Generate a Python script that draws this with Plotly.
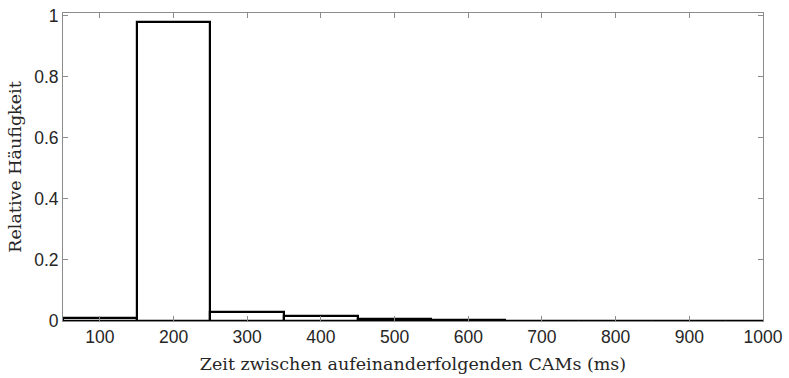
import plotly.graph_objects as go

# Histogram bins (ms): centres and relative frequencies
bin_centers = [100, 200, 300, 400, 500, 600, 700, 800, 900, 1000]
rel_freq = [0.010, 0.978, 0.031, 0.016, 0.006, 0.004, 0.0008, 0.0005, 0.0005, 0.0005]
bin_width = 100

x_ticks = [100, 200, 300, 400, 500, 600, 700, 800, 900, 1000]
y_ticks = [0, 0.2, 0.4, 0.6, 0.8, 1]
y_tick_text = ["0", "0.2", "0.4", "0.6", "0.8", "1"]

fig = go.Figure(
    go.Bar(
        x=bin_centers,
        y=rel_freq,
        width=bin_width,
        marker=dict(color="white", line=dict(color="black", width=2.2)),
        cliponaxis=True,
    )
)

axis_common = dict(
    showline=True,
    linecolor="#8c8c8c",
    linewidth=1,
    mirror="allticks",
    ticks="inside",
    ticklen=5,
    tickcolor="#8c8c8c",
    showgrid=False,
    zeroline=False,
    ticklabeloverflow="allow",
    tickfont=dict(family="Liberation Sans, Arial", size=17.5, color="#262626"),
)

fig.update_layout(
    width=789,
    height=378,
    margin=dict(l=63, r=22, t=6, b=57),
    paper_bgcolor="white",
    plot_bgcolor="white",
    showlegend=False,
    bargap=0,
    xaxis=dict(
        range=[50, 1000],
        tickvals=x_ticks,
        title=dict(
            text="Zeit zwischen aufeinanderfolgenden CAMs (ms)",
            font=dict(family="DejaVu Serif", size=17.5, color="#262626"),
            standoff=11,
        ),
        **axis_common,
    ),
    yaxis=dict(
        range=[0, 1.008],
        tickvals=y_ticks,
        ticktext=y_tick_text,
        title=dict(
            text="Relative Häufigkeit",
            font=dict(family="DejaVu Serif", size=17.5, color="#262626"),
            standoff=8,
        ),
        **axis_common,
    ),
)

fig.write_html("out.html")
